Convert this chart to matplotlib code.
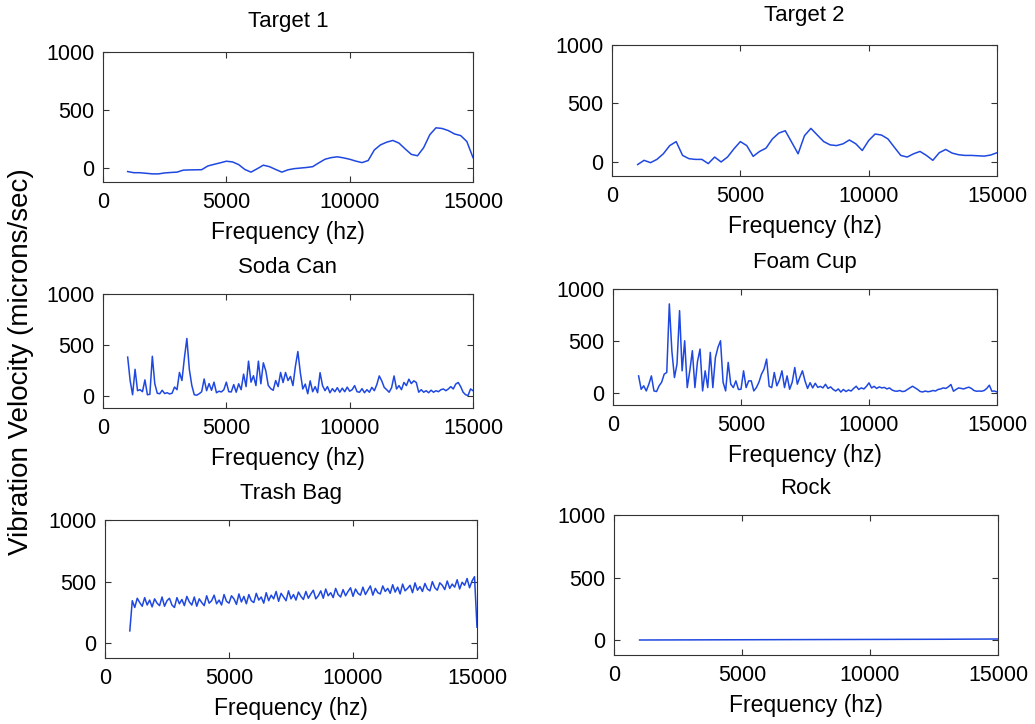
import matplotlib
matplotlib.use("Agg")
import matplotlib.pyplot as plt
import numpy as np

plt.rcParams['font.family'] = ['Liberation Sans', 'DejaVu Sans']

# frequency grids (Hz)
freq_smooth = np.arange(1000, 15001, 250)
freq_fine = np.arange(1000, 15001, 100)
freq_rock = np.arange(1000, 15001, 2000)

target1 = [-30, -40, -40, -45, -50, -50, -42, -38, -35, -18, -16, -15, -14, 18, 32,
           45, 59, 53, 30, -12, -35, -6, 25, 12, -12, -35, -15, -5, 0, 5,
           12, 45, 76, 90, 97, 88, 76, 60, 47, 65, 156, 200, 223, 238, 215,
           165, 118, 106, 176, 288, 347, 341, 323, 294, 280, 229, 90]

target2 = [-22, 14, -6, 22, 70, 140, 174, 56, 28, 22, 22, -14, 42, 0, 42,
           112, 174, 140, 48, 90, 118, 197, 247, 267, 169, 70, 225, 287, 230, 174,
           146, 140, 155, 188, 155, 98, 183, 239, 230, 197, 126, 56, 42, 70, 90,
           56, 14, 79, 107, 76, 62, 56, 56, 53, 50, 59, 79]

soda_can = [380, 150, 10, 260, 50, 60, 40, 156, 10, 15,
            388, 118, 25, 20, 54, 22, 30, 18, 25, 86,
            60, 229, 150, 372, 563, 260, 102, 10, 6, 20,
            40, 165, 50, 120, 54, 134, 30, 45, 38, 60,
            134, 40, 38, 110, 35, 118, 60, 213, 90, 340,
            134, 197, 100, 340, 118, 324, 245, 102, 70, 54,
            150, 90, 229, 130, 229, 150, 190, 100, 290, 435,
            227, 67, 115, 20, 147, 40, 90, 30, 227, 100,
            50, 90, 30, 70, 40, 80, 35, 75, 40, 85,
            45, 60, 100, 40, 35, 70, 30, 60, 35, 83,
            50, 110, 195, 147, 83, 60, 35, 80, 195, 67,
            100, 60, 131, 100, 163, 120, 147, 131, 35, 60,
            35, 50, 30, 55, 35, 50, 40, 60, 67, 50,
            67, 90, 67, 115, 131, 90, 35, 10, 3, 67,
            50]

foam_cup = [161, 32, 65, 16, 81, 161, 16, 10, 65, 100,
            178, 194, 856, 400, 145, 275, 791, 210, 500, 48,
            210, 404, 48, 300, 420, 16, 210, 48, 388, 48,
            339, 436, 500, 100, 16, 291, 81, 48, 113, 30,
            32, 210, 48, 113, 113, 16, 48, 100, 178, 226,
            323, 60, 48, 194, 65, 120, 210, 48, 161, 32,
            100, 242, 81, 150, 210, 113, 40, 95, 45, 90,
            50, 60, 45, 80, 40, 55, 30, 15, 35, 5,
            30, 10, 25, 15, 40, 61, 30, 45, 35, 60,
            94, 45, 60, 40, 55, 45, 50, 35, 45, 25,
            15, 13, 20, 10, 13, 30, 45, 61, 45, 30,
            10, 6, 15, 8, 12, 20, 15, 30, 35, 45,
            40, 55, 78, 13, 30, 45, 40, 35, 45, 52,
            40, 20, 13, 15, 13, 20, 40, 71, 13, 15,
            6]

trash_bag = [100, 345, 290, 365, 330, 300, 370, 310, 350, 295,
             360, 325, 305, 375, 300, 345, 365, 310, 290, 370,
             320, 355, 305, 380, 335, 310, 375, 300, 360, 330,
             305, 385, 325, 345, 390, 320, 350, 310, 395, 340,
             325, 385, 360, 315, 400, 335, 380, 320, 395, 345,
             330, 405, 350, 375, 325, 410, 345, 390, 360, 420,
             340, 405, 375, 345, 425, 360, 395, 350, 415, 380,
             355, 420, 365, 400, 430, 360, 385, 425, 365, 440,
             385, 410, 370, 445, 395, 375, 435, 385, 420, 450,
             380, 440, 405, 390, 455, 395, 430, 465, 390, 445,
             410, 400, 465, 420, 445, 405, 475, 415, 455, 400,
             480, 425, 445, 470, 410, 490, 430, 460, 420, 485,
             440, 425, 500, 450, 430, 490, 470, 435, 505, 445,
             480, 455, 515, 440, 495, 470, 525, 450, 505, 540,
             130]

rock = [0, 1, 2, 3, 4, 5, 6, 8]

titles = ['Target 1', 'Target 2', 'Soda Can', 'Foam Cup', 'Trash Bag', 'Rock']
series = [(freq_smooth, target1), (freq_smooth, target2),
          (freq_fine, soda_can), (freq_fine, foam_cup),
          (freq_fine, trash_bag), (freq_rock, rock)]

W, H = 1035, 724
# axes boxes in pixels: left, top, right, bottom, title pad
boxes = [(103, 52, 473, 182, 18), (612, 45, 997, 176, 17),
         (103, 294, 473, 408, 15), (613, 289, 997, 405, 15),
         (105, 520, 477, 658, 15), (614, 515, 998, 655, 15)]

fig = plt.figure(figsize=(W / 100, H / 100), dpi=100)
line_color = '#1f48e0'

for (l, t, r, b, tpad), title, (x, y) in zip(boxes, titles, series):
    ax = fig.add_axes([l / W, 1 - b / H, (r - l) / W, (b - t) / H])
    ax.plot(x, y, color=line_color, linewidth=1.1)
    ax.set_xlim(0, 15000)
    ax.set_ylim(-120, 1000)
    ax.set_xticks([0, 5000, 10000, 15000])
    ax.set_yticks([0, 500, 1000])
    ax.tick_params(direction='in', top=True, right=True, length=4,
                   width=0.8, labelsize=15.5, color='#333333')
    ax.tick_params(axis='x', pad=7)
    ax.tick_params(axis='y', pad=6)
    for s in ax.spines.values():
        s.set_linewidth(0.8)
        s.set_color('#333333')
    ax.set_title(title, fontsize=16, pad=tpad)
    ax.set_xlabel('Frequency (hz)', fontsize=16.5, labelpad=6)

fig.text(0.02, 0.5, 'Vibration Velocity (microns/sec)', rotation=90,
         ha='center', va='center', fontsize=20)

fig.savefig('out.png', dpi=100)
